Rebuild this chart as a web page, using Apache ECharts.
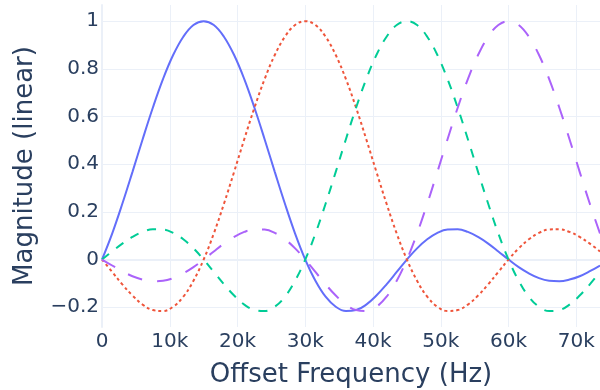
<!DOCTYPE html>
<html>
<head>
<meta charset="utf-8">
<script src="https://cdn.jsdelivr.net/npm/echarts@6/dist/echarts.min.js"></script>
<style>html,body{margin:0;padding:0;background:#fff}#c{width:600px;height:390px}</style>
</head>
<body>
<div id="c"></div>
<script>
// Offset frequency samples (Hz), step 1.5 kHz
const freqs = [0,1500,3000,4500,6000,7500,9000,10500,12000,13500,15000,16500,18000,19500,21000,22500,24000,25500,27000,28500,30000,31500,33000,34500,36000,37500,39000,40500,42000,43500,45000,46500,48000,49500,51000,52500,54000,55500,57000,58500,60000,61500,63000,64500,66000,67500,69000,70500,72000,73500];
const blueVals = [0,0.109,0.234,0.368,0.505,0.637,0.757,0.858,0.935,0.984,1,0.984,0.935,0.858,0.757,0.637,0.505,0.368,0.234,0.109,0,-0.089,-0.156,-0.198,-0.216,-0.212,-0.189,-0.151,-0.104,-0.052,0,0.047,0.085,0.112,0.126,0.127,0.116,0.095,0.067,0.034,0,-0.032,-0.058,-0.078,-0.089,-0.091,-0.084,-0.070,-0.049,-0.025];
const redVals = [0,-0.052,-0.104,-0.151,-0.189,-0.212,-0.216,-0.198,-0.156,-0.089,0,0.109,0.234,0.368,0.505,0.637,0.757,0.858,0.935,0.984,1,0.984,0.935,0.858,0.757,0.637,0.505,0.368,0.234,0.109,0,-0.089,-0.156,-0.198,-0.216,-0.212,-0.189,-0.151,-0.104,-0.052,0,0.047,0.085,0.112,0.126,0.127,0.116,0.095,0.067,0.034];
const greenVals = [0,0.034,0.067,0.095,0.116,0.127,0.126,0.112,0.085,0.047,0,-0.052,-0.104,-0.151,-0.189,-0.212,-0.216,-0.198,-0.156,-0.089,0,0.109,0.234,0.368,0.505,0.637,0.757,0.858,0.935,0.984,1,0.984,0.935,0.858,0.757,0.637,0.505,0.368,0.234,0.109,0,-0.089,-0.156,-0.198,-0.216,-0.212,-0.189,-0.151,-0.104,-0.052];
const purpleVals = [0,-0.025,-0.049,-0.070,-0.084,-0.091,-0.089,-0.078,-0.058,-0.032,0,0.034,0.067,0.095,0.116,0.127,0.126,0.112,0.085,0.047,0,-0.052,-0.104,-0.151,-0.189,-0.212,-0.216,-0.198,-0.156,-0.089,0,0.109,0.234,0.368,0.505,0.637,0.757,0.858,0.935,0.984,1,0.984,0.935,0.858,0.757,0.637,0.505,0.368,0.234,0.109];
const xTitle = 'Offset Frequency (Hz)';
const yTitle = 'Magnitude (linear)';

const FONT = 'DejaVu Sans';
const TXT = '#2a3f5f';
const GRID = '#EBF0F8';
const zip = (ys) => freqs.map((f, i) => [f, ys[i]]);

const chart = echarts.init(document.getElementById('c'), null, {renderer: 'canvas'});
const mk = (name, ys, color, dash) => ({
  name, type: 'line', data: zip(ys), showSymbol: false, smooth: 0.4,
  lineStyle: {color, width: 2, type: dash, cap: 'butt'}, itemStyle: {color},
  animation: false
});
chart.setOption({
  animation: false,
  backgroundColor: '#fff',
  grid: {left: 102, right: 0, top: 5, bottom: 63, containLabel: false, outerBoundsMode: 'none'},
  xAxis: {
    type: 'value', min: 0, max: 73500, interval: 10000,
    name: xTitle, nameLocation: 'middle', nameGap: 35,
    nameTextStyle: {fontFamily: FONT, fontSize: 26, color: TXT},
    axisLine: {show: true, onZero: true, lineStyle: {color: GRID, width: 2}},
    axisTick: {show: false},
    splitLine: {show: true, showMaxLine: false, lineStyle: {color: GRID, width: 1}},
    axisLabel: {fontFamily: FONT, fontSize: 20, color: TXT, margin: 5, showMaxLabel: false,
      formatter: v => v === 0 ? '0' : (v / 1000) + 'k'}
  },
  yAxis: {
    type: 'value', min: -0.283, max: 1.068, minInterval: 0.2, maxInterval: 0.2,
    name: yTitle, nameLocation: 'middle', nameGap: 64,
    nameTextStyle: {fontFamily: FONT, fontSize: 26, color: TXT},
    axisLine: {show: true, lineStyle: {color: GRID, width: 2}},
    axisTick: {show: false},
    splitLine: {show: true, showMinLine: false, showMaxLine: false, lineStyle: {color: GRID, width: 1}},
    axisLabel: {fontFamily: FONT, fontSize: 20, color: TXT, margin: 3, showMinLabel: false, showMaxLabel: false,
      formatter: v => { const r = Math.round(v * 10) / 10; return r < 0 ? '\u2212' + Math.abs(r) : String(r); }}
  },
  series: [
    mk('blue', blueVals, '#636efa', 'solid'),
    mk('red', redVals, '#EF553B', [3, 3]),
    mk('green', greenVals, '#00cc96', [9, 9]),
    mk('purple', purpleVals, '#ab63fa', [15, 15])
  ]
});
</script>
</body>
</html>
